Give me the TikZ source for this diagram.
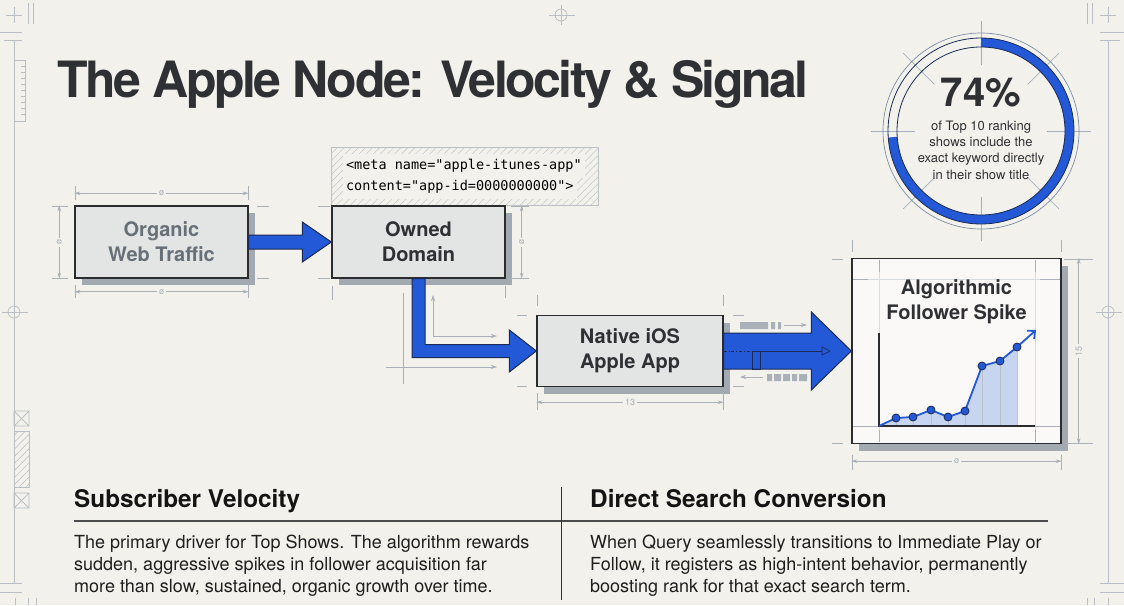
\documentclass[tikz,border=0pt]{standalone}
\usepackage{fontspec}
\setmainfont{TeX Gyre Heros}
\setmonofont{DejaVu Sans Mono}
\usepackage{tikz}
\usetikzlibrary{arrows.meta, calc, positioning, shadows, patterns.meta}
\definecolor{paper}{HTML}{F2F1EC}
\definecolor{boxfill}{HTML}{E3E4E4}
\definecolor{boxline}{HTML}{2A2C30}
\definecolor{shade}{HTML}{A3A9B0}
\definecolor{signal}{HTML}{2358D6}
\definecolor{navy}{HTML}{1B2B55}
\definecolor{dimgray}{HTML}{A9B0B8}
\definecolor{framegray}{HTML}{B9BEC4}
\definecolor{ink}{HTML}{2F3033}
\definecolor{mute}{HTML}{687077}
\definecolor{spikefill}{HTML}{C7D5F0}
\definecolor{ringgray}{HTML}{7D8CA5}

\begin{document}
\begin{tikzpicture}[
			x=1pt, y=-1pt,
			stagebox/.style={
					draw=boxline,
					line width=1.4pt,
					fill=boxfill,
					text=ink,
					align=center,
					inner sep=0pt,
					font=\fontsize{20}{25}\selectfont\bfseries,
					drop shadow={shadow xshift=7pt, shadow yshift=-7pt, fill=shade, opacity=1}
				},
			blockarrow/.style={fill=signal, draw=navy, line width=1pt, line join=miter},
			dimline/.style={draw=dimgray, line width=0.7pt, {Stealth[length=6pt, width=3.5pt]}-{Stealth[length=6pt, width=3.5pt]}},
			dimlabel/.style={fill=paper, text=dimgray, inner sep=2pt, font=\fontsize{9}{9}\selectfont},
			guide/.style={draw=dimgray, line width=0.7pt},
			guidearrow/.style={draw=dimgray, line width=0.7pt, -{Stealth[length=6pt, width=4pt]}},
			frame/.style={draw=framegray, line width=0.7pt},
			bodytext/.style={anchor=base west, inner sep=0pt, align=left, text=black!88, font=\fontsize{18}{22}\selectfont},
			heading/.style={anchor=base west, inner sep=0pt, text=black!92, font=\fontsize{24.3}{28}\selectfont\bfseries}
		]
		\useasboundingbox[fill=paper] (0,0) rectangle (1124,605);

		% sheet frame
		\draw[frame] (14,40) -- (14,583) (1108,40) -- (1108,583);
		\draw[frame] (6,15) -- (22,15) (14,7) -- (14,23) (28,3) -- (28,24) (33,3) -- (33,24);
		\draw[frame] (0,32) -- (22,32) (4,40) -- (22,40);
		\draw[frame] (1100,15) -- (1116,15) (1108,7) -- (1108,23) (1087,3) -- (1087,24) (1092,3) -- (1092,24);
		\draw[frame] (1100,32) -- (1124,32) (1100,40) -- (1120,40);
		\draw[frame] (0,583) -- (22,583) (0,592) -- (22,592) (1100,583) -- (1124,583) (1100,592) -- (1124,592);
		\draw[frame] (15,598) -- (15,605) (28,598) -- (28,605) (36,598) -- (36,605);
		\draw[frame] (1087,598) -- (1087,605) (1094,598) -- (1094,605) (1108,598) -- (1108,605);
		\foreach \cx/\cy in {14/312, 1108/312, 561/15} {
				\draw[frame] (\cx,\cy) circle[radius=6];
				\draw[frame] (\cx-12,\cy) -- (\cx+14,\cy);
			}
		\draw[frame] (561,5) -- (561,25);
		\draw[frame] (14,60) rectangle (25,121);
		\foreach \t in {66,72,...,118} {
				\draw[frame] (21,\t) -- (25,\t);
			}
		\draw[frame] (14,411) rectangle (29,426) (14,411) -- (29,426) (29,411) -- (14,426);
		\draw[frame, pattern={Lines[angle=45, distance=5pt, line width=0.5pt]}, pattern color=framegray] (14,431) rectangle (29,487);
		\draw[frame] (14,493) rectangle (29,508) (14,493) -- (29,508) (29,493) -- (14,508);

		% title
		\node[anchor=base west, inner sep=0pt, text=ink, font=\fontsize{50}{50}\selectfont\bfseries\addfontfeature{LetterSpace=-5}] (title) at (57,97) {The Apple Node: Velocity \& Signal};

		% 74% ring
		\coordinate (ring) at (981,131);
		\foreach \a in {0,45,...,315} {
				\draw[guide, draw=ringgray!70] ($(ring)+(\a:66)$) -- ($(ring)+(\a:110)$);
			}
		\draw[signal, line width=9pt] ($(ring)+(-90:88.5)$) arc[start angle=-90, end angle=176, radius=88.5];
		\draw[navy, line width=0.8pt] (ring) circle[radius=93] (ring) circle[radius=84];
		\draw[ringgray, line width=0.7pt] (ring) circle[radius=98];
		\node[text=ink, font=\fontsize{40}{40}\selectfont\bfseries] (pct) at (981,93) {74\%};
		\node[below=6pt of pct, text=ink, align=center, font=\fontsize{13}{16.4}\selectfont] (pctnote) {of Top 10 ranking\\shows include the\\exact keyword directly\\in their show title};

		% meta tag
		\node[
			draw=dimgray!80,
			line width=0.7pt,
			preaction={fill=paper},
			pattern={Lines[angle=45, distance=5pt, line width=0.5pt]},
			pattern color=dimgray!70,
			text width=243pt,
			inner xsep=12pt,
			minimum height=58pt,
			align=left,
			font=\fontsize{13.5}{18}\selectfont\ttfamily
		] (meta) at (464.5,176) {\colorbox{paper}{\strut<meta\hspace{0.602em}name="apple-itunes-app"}\\[-4pt]\colorbox{paper}{\strut content="app-id=0000000000">}};

		% stages
		\node[stagebox, minimum width=173pt, minimum height=72pt, text=mute] (organic) at (161.5,242) {Organic\\Web Traffic};
		\node[stagebox, minimum width=173pt, minimum height=72pt] (owned) at (418.5,242) {Owned\\Domain};
		\node[stagebox, minimum width=186pt, minimum height=71pt] (native) at (630,351) {Native iOS\\Apple App};
		\node[stagebox, minimum width=209pt, minimum height=185pt, fill=paper!40!white] (spike) at (956.5,351) {};

		% dimension marks
		\draw[dimline] ([yshift=12pt]organic.north west) -- ([yshift=12pt]organic.north east) node[dimlabel, midway] {\o};
		\draw[dimline] ([yshift=-13pt]organic.south west) -- ([yshift=-13pt]organic.south east) node[dimlabel, midway] {\o};
		\draw[dimline] ([xshift=-15pt]organic.north west) -- ([xshift=-15pt]organic.south west) node[dimlabel, midway, rotate=90] {\o};
		\draw[dimline] ([xshift=16pt]owned.north east) -- ([xshift=16pt]owned.south east) node[dimlabel, midway, rotate=90] {\o};
		\draw[dimline] ([yshift=-15pt]native.south west) -- ([yshift=-15pt]native.south east) node[dimlabel, midway] {13};
		\draw[dimline] ([yshift=-17pt]spike.south west) -- ([yshift=-17pt]spike.south east) node[dimlabel, midway] {\o};
		\draw[dimline] ([xshift=17pt]spike.north east) -- ([xshift=17pt]spike.south east) node[dimlabel, midway, rotate=90] {15};
		\draw[guide] (75,186) -- (75,200) (248,186) -- (248,200) (75,285) -- (75,298) (248,285) -- (248,298);
		\draw[guide] (52,206) -- (68,206) (52,278) -- (68,278) (511,206) -- (529,206) (511,278) -- (529,278);
		\draw[guide] (257,206) -- (269,206) (257,278) -- (269,278) (318,206) -- (330,206) (318,278) -- (330,278);
		\draw[guide] (332,286) -- (332,300) (505,286) -- (505,298);
		\draw[guide] (537,295) -- (537,306) (723,295) -- (723,306) (537,393) -- (537,410) (723,393) -- (723,410);
		\draw[guide] (517,315) -- (527,315) (517,386) -- (527,386) (733,315) -- (744,315) (733,386) -- (744,386);
		\draw[guide] (852,240) -- (852,252) (1061,240) -- (1061,252) (852,455) -- (852,470) (1061,455) -- (1061,470);
		\draw[guide] (832,259) -- (843,259) (832,443) -- (843,443) (1064,259) -- (1093,259) (1064,443) -- (1093,443);

		% helper arrows beside the turn
		\draw[guidearrow] (433,336) -- (433,295);
		\draw[guidearrow] (433,336) -- (497,336);
		\draw[guide] (403,293) -- (403,384);
		\draw[guidearrow] (386,367) -- (497,367);

		% flow arrows
		\draw[blockarrow] ($(organic.east)+(0,-7)$) -- ($(owned.west)+(-29,-7)$) -- ($(owned.west)+(-29,-20)$) -- (owned.west)
		-- ($(owned.west)+(-29,20)$) -- ($(owned.west)+(-29,7)$) -- ($(organic.east)+(0,7)$) -- cycle;
		\draw[blockarrow] ($(owned.south)+(-6.5,0)$) |- ($(native.west)+(-27,6.5)$) -- ($(native.west)+(-27,21)$) -- (native.west)
		-- ($(native.west)+(-27,-21)$) -- ($(native.west)+(-27,-6.5)$) -| ($(owned.south)+(6.5,0)$) -- cycle;
		\draw[blockarrow] ($(native.east)+(0,-18)$) -- ($(spike.west)+(-40,-18)$) -- ($(spike.west)+(-40,-39)$) -- (spike.west)
		-- ($(spike.west)+(-40,39)$) -- ($(spike.west)+(-40,18)$) -- ($(native.east)+(0,18)$) -- cycle;
		\draw[navy, line width=0.6pt, dash dot] (native.east) -- ++(29,0);
		\draw[navy, line width=0.6pt] ($(native.east)+(29,0)$) rectangle ++(8,18);
		\draw[navy, line width=0.6pt, -{Triangle[open, length=9pt, width=9pt]}] ($(native.east)+(37,0)$) -- ++(70,0);

		% signal ticks round the big arrow
		\fill[dimgray] (740,322) rectangle (768,329) (771,322) rectangle (775,329) (778,322) rectangle (781,329);
		\draw[guidearrow] (784,325) -- (807,325);
		\draw[guidearrow] (763,377) -- (740,377);
		\fill[dimgray] (767,374) rectangle (772,381) (774,374) rectangle (781,381) (783,374) rectangle (790,381) (792,374) rectangle (797,381) (799,374) rectangle (807,381);

		% spike chart
		\draw[guide, draw=dimgray!45] (879,260) -- (879,442) (1035,260) -- (1035,442) (853,279) -- (1060,279) (853,426) -- (1060,426);
		\draw[guide] (853,279) -- (868,279) (1040,279) -- (1060,279) (853,426) -- (879,426) (1035,426) -- (1060,426);
		\draw[guide] (879,260) -- (879,272) (1035,260) -- (1035,272) (879,430) -- (879,442) (1035,430) -- (1035,442);
		\node[text=ink, align=center, font=\fontsize{20}{25}\selectfont\bfseries] (spiketitle) at (956.5,302) {Algorithmic\\Follower Spike};
		\fill[spikefill] (879,426) -- (896,418) -- (913,417) -- (931,410) -- (948,417) -- (965,411) -- (982,366) -- (1000,361) -- (1017,347) -- (1017,426) -- cycle;
		\foreach \px/\py in {896/418, 913/417, 931/410, 948/417, 965/411, 982/366, 1000/361, 1017/347} {
				\draw[guide, draw=dimgray!80] (\px,\py) -- (\px,426);
			}
		\draw[boxline, line width=1.3pt] (879,333) -- (879,426) -- (1035,426);
		\draw[signal, line width=1.8pt, line join=round] (879,426) -- (896,418) -- (913,417) -- (931,410) -- (948,417) -- (965,411) -- (982,366) -- (1000,361) -- (1017,347);
		\draw[signal, line width=1.8pt, -{Straight Barb[length=6pt, width=11pt]}] (1017,347) -- (1036,330);
		\foreach \px/\py in {896/418, 913/417, 931/410, 948/417, 965/411, 982/366, 1000/361, 1017/347} {
				\fill[signal, draw=navy, line width=0.8pt] (\px,\py) circle[radius=4];
			}

		% notes (base of a wrapped node sits on its last line)
		\node[heading] (velhead) at (74,507) {Subscriber Velocity};
		\node[heading] (convhead) at (590,507) {Direct Search Conversion};
		\draw[black!70, line width=1.3pt] (74,521) -- (1048,521);
		\draw[black!80, line width=1pt] (561,487) -- (561,600);
		\node[bodytext] (veltext) at (74,592) {The primary driver for Top Shows. The algorithm rewards\\sudden, aggressive spikes in follower acquisition far\\more than slow, sustained, organic growth over time.};
		\node[bodytext] (convtext) at (590,592) {When Query seamlessly transitions to Immediate Play or\\Follow, it registers as high-intent behavior, permanently\\boosting rank for that exact search term.};
	\end{tikzpicture}
\end{document}
